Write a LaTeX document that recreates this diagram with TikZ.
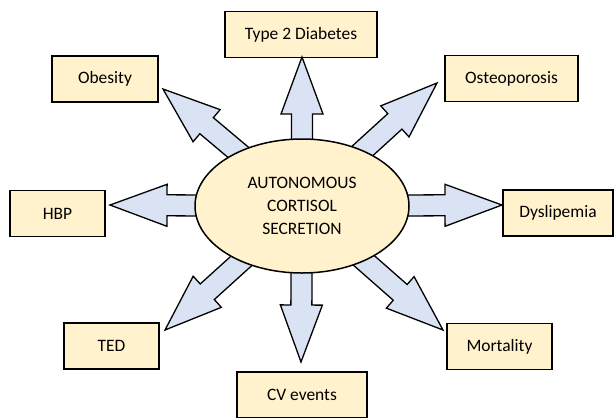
\documentclass[tikz,border=0pt]{standalone}
\usepackage{fontspec}
\setmainfont{Carlito}
\definecolor{boxyellow}{RGB}{255, 242, 204}
\definecolor{arrowblue}{RGB}{218, 227, 243}
\usetikzlibrary{shapes.geometric, calc}

% outlined block arrow from #1 to the tip #2
\newcommand\blockarrow[2]{%
  \path (#1) coordinate (ba-s) (#2) coordinate (ba-t);
  \coordinate (ba-h) at ($(ba-t)!57bp!(ba-s)$);
  \filldraw[barrow] ($(ba-s)!10.5bp!90:(ba-t)$) -- ($(ba-h)!10.5bp!90:(ba-t)$)
    -- ($(ba-h)!21bp!90:(ba-t)$) -- (ba-t) -- ($(ba-h)!21bp!-90:(ba-t)$)
    -- ($(ba-h)!10.5bp!-90:(ba-t)$) -- ($(ba-s)!10.5bp!-90:(ba-t)$) -- cycle;
}

\begin{document}
\begin{tikzpicture}[x=1bp, y=-1bp,
  effbox/.style={draw, line width=1.5bp, fill=boxyellow, minimum height=46bp, inner sep=0pt,
    font=\fontsize{17.5}{21}\selectfont},
  barrow/.style={draw, line width=1.3bp, fill=arrowblue, line join=miter}]
  \useasboundingbox (0,0) rectangle (616,417);

  % outcomes
  \node[effbox, minimum width=152bp] (diab) at (301, 34.5) {Type 2 Diabetes};
  \node[effbox, minimum width=106bp] (obes) at (105, 79) {Obesity};
  \node[effbox, minimum width=133bp] (osteo) at (511.5, 78.5) {Osteoporosis};
  \node[effbox, minimum width=95bp] (hbp) at (57.5, 213.5) {HBP};
  \node[effbox, minimum width=110bp] (dysl) at (558, 213) {Dyslipemia};
  \node[effbox, minimum width=95bp] (ted) at (111.5, 346) {TED};
  \node[effbox, minimum width=130bp] (cv) at (302, 395) {CV events};
  \node[effbox, minimum width=105bp] (mort) at (499.5, 346.5) {Mortality};

  % arrow tips
  \coordinate (tdiab) at (302, 57);
  \coordinate (tobes) at (163, 89);
  \coordinate (tosteo) at (437, 83);
  \coordinate (thbp) at (110, 205);
  \coordinate (tdysl) at (502, 205);
  \coordinate (tted) at (165, 330);
  \coordinate (tcv) at (301, 362);
  \coordinate (tmort) at (443, 330);

  \coordinate (mid) at (302, 206);
  \foreach \t in {tdiab, tobes, tosteo, thbp, tdysl, tted, tcv, tmort}
    \blockarrow{mid}{\t};

  % centre
  \node[ellipse, draw, line width=1.5bp, fill=boxyellow, minimum width=214bp, minimum height=134bp,
    inner sep=0pt, align=center, font=\fontsize{17.5}{23}\selectfont] (acs) at (mid)
    {AUTONOMOUS\\CORTISOL\\SECRETION};
\end{tikzpicture}
\end{document}
